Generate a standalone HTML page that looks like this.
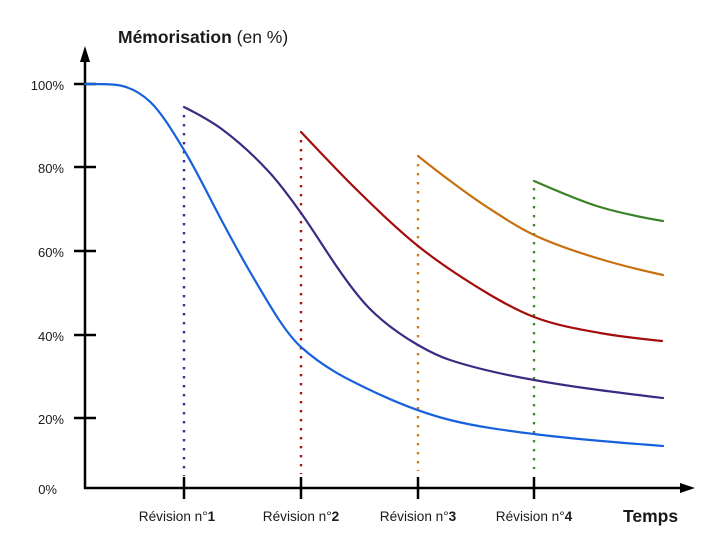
<!DOCTYPE html>
<html><head><meta charset="utf-8"><style>
html,body{margin:0;padding:0;background:#fff;}
svg{display:block;}
text{font-family:"Liberation Sans",Arial,sans-serif;fill:#1a1a1a;}
</style></head><body>
<svg width="726" height="551" viewBox="0 0 726 551" xmlns="http://www.w3.org/2000/svg">
<rect width="726" height="551" fill="#fff"/>
<!-- title -->
<text x="118" y="43" font-size="17.5"><tspan font-weight="bold">Mémorisation</tspan> (en %)</text>
<!-- y labels -->
<g font-size="13" text-anchor="end">
<text x="64" y="90">100%</text>
<text x="64" y="173">80%</text>
<text x="64" y="257">60%</text>
<text x="64" y="341">40%</text>
<text x="64" y="424">20%</text>
<text x="57" y="494">0%</text>
</g>
<!-- x labels -->
<g font-size="13.6" text-anchor="middle">
<text x="177" y="521">Révision n°<tspan font-weight="bold">1</tspan></text>
<text x="301" y="521">Révision n°<tspan font-weight="bold">2</tspan></text>
<text x="418" y="521">Révision n°<tspan font-weight="bold">3</tspan></text>
<text x="534" y="521">Révision n°<tspan font-weight="bold">4</tspan></text>
</g>
<text x="623" y="522" font-size="17.5" font-weight="bold">Temps</text>

<!-- dotted lines -->
<g stroke-width="2.4" stroke-dasharray="2.4 6.6" fill="none">
<line x1="184" y1="115" x2="184" y2="476" stroke="#3d2a8a"/>
<line x1="301" y1="140" x2="301" y2="474" stroke="#b01010"/>
<line x1="418" y1="164" x2="418" y2="471" stroke="#d07a20"/>
<line x1="534" y1="188" x2="534" y2="469" stroke="#3f8a2a"/>
</g>

<!-- axes -->
<g stroke="#000" stroke-width="2.5" fill="none">
<line x1="85" y1="58" x2="85" y2="489"/>
<line x1="84" y1="488" x2="684" y2="488"/>
<line x1="74" y1="84" x2="96" y2="84"/>
<line x1="74" y1="167" x2="96" y2="167"/>
<line x1="74" y1="251" x2="96" y2="251"/>
<line x1="74" y1="335" x2="96" y2="335"/>
<line x1="74" y1="418" x2="96" y2="418"/>
<line x1="184" y1="477" x2="184" y2="499"/>
<line x1="301" y1="477" x2="301" y2="499"/>
<line x1="418" y1="477" x2="418" y2="499"/>
<line x1="534" y1="477" x2="534" y2="499"/>
</g>
<polygon points="85,46 80,62 90,62" fill="#000"/>
<polygon points="695,488 680,483 680,493" fill="#000"/>

<!-- curves -->
<g fill="none" stroke-width="2.2" stroke-linecap="round" stroke-linejoin="round">
<path stroke="#1762dc" d="M85,84 C94,84 103,84.05 112,84.5 C124.67,85.1 137.33,89.8 150,101.7 C161.33,112.35 172.67,131.3 184,150 C197,171.45 210,198.7 223,223 C233,241.7 243,260 253,277 C269,304.2 285,332.6 301,347 C324,367.7 347,379 370,390 C396.67,402.8 423.33,413.3 450,420 C478,427 506,430.4 534,434 C577,439.6 620,442.6 663,446"/>
<path stroke="#3c2a82" d="M184,107 C197,113.5 210,120.25 223,130 C238.67,141.75 254.33,155.8 270,173 C280.33,184.4 290.67,198.5 301,213 C313,229.8 325,249.6 337,267 C348,283 359,298 370,309 C386,325 402,335.7 418,345 C428.67,351.2 439.33,356.5 450,360 C478,369.2 506,375 534,380 C577,387.7 620,392.8 663,398"/>
<path stroke="#a50d0d" d="M301,132 C319.67,151.6 338.33,171.7 357,190 C377.33,209.9 397.67,229.7 418,246 C441,264.4 464,279.2 487,293 C502.67,302.4 518.33,311 534,317 C556,325.4 578,329 600,333 C620.67,336.7 641.33,338.9 662,341"/>
<path stroke="#c8700f" d="M418,156 C429.67,165.3 441.33,174.4 453,183 C464.33,191.4 475.67,199.6 487,207 C502.67,217.2 518.33,227.6 534,235 C556,245.3 578,252.4 600,259 C621,265.3 642,270.4 663,275"/>
<path stroke="#3a8226" d="M534,181 C556,190.2 578,200.4 600,207 C621,213.3 642,217.4 663,221"/>
</g>
</svg>
</body></html>
